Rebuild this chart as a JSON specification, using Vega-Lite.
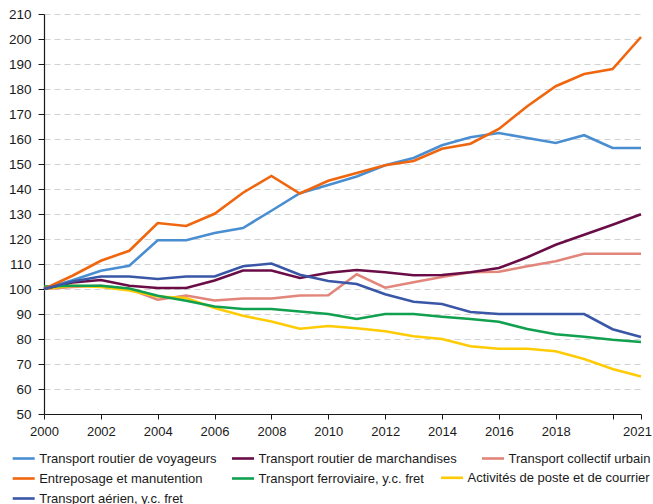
{
  "$schema": "https://vega.github.io/schema/vega-lite/v6.json",
  "width": 597,
  "height": 400,
  "autosize": {"type": "none"},
  "padding": {"left": 44, "top": 14, "right": 12, "bottom": 90},
  "background": "white",
  "config": {
    "view": {"stroke": null},
    "font": "Liberation Sans",
    "axis": {"labelFont": "Liberation Sans", "labelColor": "#1a1a1a", "labelFontSize": 13, "domainColor": "#1a1a1a", "tickColor": "#1a1a1a", "titleFontSize": 13},
    "legend": {"labelFont": "Liberation Sans", "labelFontSize": 13, "labelColor": "#1a1a1a", "title": null, "orient": "none", "direction": "vertical", "symbolType": "stroke", "symbolSize": 484, "symbolStrokeWidth": 3, "labelOffset": 3, "rowPadding": -1, "labelLimit": 300},
    "line": {"strokeWidth": 2.6, "strokeJoin": "miter"}
  },
  "datasets": {
    "d": [
      {"year": 2000, "s": "V", "value": 100}, {"year": 2001, "s": "V", "value": 103.5}, {"year": 2002, "s": "V", "value": 107.3}, {"year": 2003, "s": "V", "value": 109.3}, {"year": 2004, "s": "V", "value": 119.5}, {"year": 2005, "s": "V", "value": 119.5}, {"year": 2006, "s": "V", "value": 122.4}, {"year": 2007, "s": "V", "value": 124.4}, {"year": 2008, "s": "V", "value": 131.3}, {"year": 2009, "s": "V", "value": 138.3}, {"year": 2010, "s": "V", "value": 141.6}, {"year": 2011, "s": "V", "value": 145}, {"year": 2012, "s": "V", "value": 149.5}, {"year": 2013, "s": "V", "value": 152.4}, {"year": 2014, "s": "V", "value": 157.5}, {"year": 2015, "s": "V", "value": 160.7}, {"year": 2016, "s": "V", "value": 162.4}, {"year": 2017, "s": "V", "value": 160.4}, {"year": 2018, "s": "V", "value": 158.4}, {"year": 2019, "s": "V", "value": 161.5}, {"year": 2020, "s": "V", "value": 156.4}, {"year": 2021, "s": "V", "value": 156.4},
      {"year": 2000, "s": "M", "value": 100}, {"year": 2001, "s": "M", "value": 102.6}, {"year": 2002, "s": "M", "value": 103.6}, {"year": 2003, "s": "M", "value": 101.3}, {"year": 2004, "s": "M", "value": 100.4}, {"year": 2005, "s": "M", "value": 100.4}, {"year": 2006, "s": "M", "value": 103.4}, {"year": 2007, "s": "M", "value": 107.4}, {"year": 2008, "s": "M", "value": 107.4}, {"year": 2009, "s": "M", "value": 104.4}, {"year": 2010, "s": "M", "value": 106.5}, {"year": 2011, "s": "M", "value": 107.6}, {"year": 2012, "s": "M", "value": 106.7}, {"year": 2013, "s": "M", "value": 105.5}, {"year": 2014, "s": "M", "value": 105.6}, {"year": 2015, "s": "M", "value": 106.7}, {"year": 2016, "s": "M", "value": 108.4}, {"year": 2017, "s": "M", "value": 112.7}, {"year": 2018, "s": "M", "value": 117.7}, {"year": 2019, "s": "M", "value": 121.7}, {"year": 2020, "s": "M", "value": 125.7}, {"year": 2021, "s": "M", "value": 129.9},
      {"year": 2000, "s": "C", "value": 100}, {"year": 2001, "s": "C", "value": 100.8}, {"year": 2002, "s": "C", "value": 101.3}, {"year": 2003, "s": "C", "value": 100}, {"year": 2004, "s": "C", "value": 95.7}, {"year": 2005, "s": "C", "value": 97.4}, {"year": 2006, "s": "C", "value": 95.4}, {"year": 2007, "s": "C", "value": 96.2}, {"year": 2008, "s": "C", "value": 96.2}, {"year": 2009, "s": "C", "value": 97.4}, {"year": 2010, "s": "C", "value": 97.5}, {"year": 2011, "s": "C", "value": 105.9}, {"year": 2012, "s": "C", "value": 100.5}, {"year": 2013, "s": "C", "value": 102.7}, {"year": 2014, "s": "C", "value": 104.8}, {"year": 2015, "s": "C", "value": 106.7}, {"year": 2016, "s": "C", "value": 106.9}, {"year": 2017, "s": "C", "value": 109.1}, {"year": 2018, "s": "C", "value": 111.1}, {"year": 2019, "s": "C", "value": 114.1}, {"year": 2020, "s": "C", "value": 114.1}, {"year": 2021, "s": "C", "value": 114.1},
      {"year": 2000, "s": "E", "value": 100}, {"year": 2001, "s": "E", "value": 105.3}, {"year": 2002, "s": "E", "value": 111.3}, {"year": 2003, "s": "E", "value": 115.3}, {"year": 2004, "s": "E", "value": 126.4}, {"year": 2005, "s": "E", "value": 125.2}, {"year": 2006, "s": "E", "value": 130.1}, {"year": 2007, "s": "E", "value": 138.5}, {"year": 2008, "s": "E", "value": 145.2}, {"year": 2009, "s": "E", "value": 138.2}, {"year": 2010, "s": "E", "value": 143.3}, {"year": 2011, "s": "E", "value": 146.4}, {"year": 2012, "s": "E", "value": 149.5}, {"year": 2013, "s": "E", "value": 151.2}, {"year": 2014, "s": "E", "value": 156.1}, {"year": 2015, "s": "E", "value": 158.1}, {"year": 2016, "s": "E", "value": 164}, {"year": 2017, "s": "E", "value": 173.1}, {"year": 2018, "s": "E", "value": 181.1}, {"year": 2019, "s": "E", "value": 186}, {"year": 2020, "s": "E", "value": 188}, {"year": 2021, "s": "E", "value": 200.8},
      {"year": 2000, "s": "F", "value": 101}, {"year": 2001, "s": "F", "value": 101.3}, {"year": 2002, "s": "F", "value": 101.3}, {"year": 2003, "s": "F", "value": 100.2}, {"year": 2004, "s": "F", "value": 97.3}, {"year": 2005, "s": "F", "value": 95.3}, {"year": 2006, "s": "F", "value": 93}, {"year": 2007, "s": "F", "value": 92}, {"year": 2008, "s": "F", "value": 92}, {"year": 2009, "s": "F", "value": 91}, {"year": 2010, "s": "F", "value": 90}, {"year": 2011, "s": "F", "value": 88}, {"year": 2012, "s": "F", "value": 90}, {"year": 2013, "s": "F", "value": 90}, {"year": 2014, "s": "F", "value": 88.9}, {"year": 2015, "s": "F", "value": 88}, {"year": 2016, "s": "F", "value": 86.9}, {"year": 2017, "s": "F", "value": 84}, {"year": 2018, "s": "F", "value": 81.9}, {"year": 2019, "s": "F", "value": 80.9}, {"year": 2020, "s": "F", "value": 79.7}, {"year": 2021, "s": "F", "value": 78.8},
      {"year": 2000, "s": "P", "value": 100}, {"year": 2001, "s": "P", "value": 101.3}, {"year": 2002, "s": "P", "value": 100.8}, {"year": 2003, "s": "P", "value": 99.4}, {"year": 2004, "s": "P", "value": 97}, {"year": 2005, "s": "P", "value": 96.4}, {"year": 2006, "s": "P", "value": 92.4}, {"year": 2007, "s": "P", "value": 89.3}, {"year": 2008, "s": "P", "value": 87}, {"year": 2009, "s": "P", "value": 84.1}, {"year": 2010, "s": "P", "value": 85.2}, {"year": 2011, "s": "P", "value": 84.3}, {"year": 2012, "s": "P", "value": 83.1}, {"year": 2013, "s": "P", "value": 81.1}, {"year": 2014, "s": "P", "value": 80}, {"year": 2015, "s": "P", "value": 77.1}, {"year": 2016, "s": "P", "value": 76.1}, {"year": 2017, "s": "P", "value": 76.1}, {"year": 2018, "s": "P", "value": 75.1}, {"year": 2019, "s": "P", "value": 72}, {"year": 2020, "s": "P", "value": 68}, {"year": 2021, "s": "P", "value": 65},
      {"year": 2000, "s": "A", "value": 100}, {"year": 2001, "s": "A", "value": 103}, {"year": 2002, "s": "A", "value": 105}, {"year": 2003, "s": "A", "value": 105}, {"year": 2004, "s": "A", "value": 104}, {"year": 2005, "s": "A", "value": 105}, {"year": 2006, "s": "A", "value": 105}, {"year": 2007, "s": "A", "value": 109.1}, {"year": 2008, "s": "A", "value": 110.2}, {"year": 2009, "s": "A", "value": 105.7}, {"year": 2010, "s": "A", "value": 103.2}, {"year": 2011, "s": "A", "value": 102}, {"year": 2012, "s": "A", "value": 97.9}, {"year": 2013, "s": "A", "value": 94.9}, {"year": 2014, "s": "A", "value": 94}, {"year": 2015, "s": "A", "value": 90.8}, {"year": 2016, "s": "A", "value": 90}, {"year": 2017, "s": "A", "value": 90}, {"year": 2018, "s": "A", "value": 90}, {"year": 2019, "s": "A", "value": 90}, {"year": 2020, "s": "A", "value": 83.9}, {"year": 2021, "s": "A", "value": 80.8}
    ],
    "names": [
      {"s": "V", "serie": "Transport routier de voyageurs"},
      {"s": "M", "serie": "Transport routier de marchandises"},
      {"s": "C", "serie": "Transport collectif urbain"},
      {"s": "E", "serie": "Entreposage et manutention"},
      {"s": "F", "serie": "Transport ferroviaire, y.c. fret"},
      {"s": "P", "serie": "Activités de poste et de courrier"},
      {"s": "A", "serie": "Transport aérien, y.c. fret"}
    ]
  },
  "data": {"name": "d"},
  "transform": [
    {"lookup": "s", "from": {"data": {"name": "names"}, "key": "s", "fields": ["serie"]}}
  ],
  "encoding": {
    "x": {
      "field": "year", "type": "quantitative",
      "scale": {"domain": [2000, 2021], "nice": false, "zero": false},
      "axis": {
        "title": null, "format": "d", "grid": false, "labelFlush": false,
        "values": [2000, 2002, 2004, 2006, 2008, 2010, 2012, 2014, 2016, 2018, 2020, 2021],
        "labelExpr": "datum.value == 2020 ? '' : datum.label",
        "labelOffset": {"condition": {"test": "datum.value == 2021", "value": -4}, "value": 0},
        "tickSize": 5, "labelPadding": 6, "domainWidth": 1.2, "labelOverlap": false
      }
    },
    "y": {
      "field": "value", "type": "quantitative",
      "scale": {"domain": [50, 210], "nice": false, "zero": false},
      "axis": {
        "title": null, "values": [50, 60, 70, 80, 90, 100, 110, 120, 130, 140, 150, 160, 170, 180, 190, 200, 210],
        "grid": true, "gridColor": "#d2d2d2", "gridDash": [6, 4], "gridWidth": 1,
        "tickSize": 6, "labelPadding": 7, "domainWidth": 1.2, "labelFontSize": 13.5
      }
    }
  },
  "layer": [
    {
      "transform": [{"filter": {"field": "s", "oneOf": ["C"]}}],
      "mark": "line",
      "encoding": {
        "color": {
          "field": "serie", "type": "nominal",
          "scale": {"domain": ["Transport collectif urbain"], "range": ["#e2857a"]},
          "legend": {"legendX": 436.5, "legendY": 432}
        }
      }
    },
    {
      "transform": [{"filter": {"field": "s", "oneOf": ["P"]}}],
      "mark": "line",
      "encoding": {
        "color": {
          "field": "serie", "type": "nominal",
          "scale": {"domain": ["Activités de poste et de courrier"], "range": ["#ffcb05"]},
          "legend": {"legendX": 395.5, "legendY": 451.3}
        }
      }
    },
    {
      "transform": [{"filter": {"field": "s", "oneOf": ["M", "F"]}}],
      "mark": "line",
      "encoding": {
        "color": {
          "field": "serie", "type": "nominal",
          "scale": {"domain": ["Transport routier de marchandises", "Transport ferroviaire, y.c. fret"], "range": ["#6a0d46", "#11a04f"]},
          "legend": {"legendX": 186.5, "legendY": 432}
        }
      }
    },
    {
      "transform": [{"filter": {"field": "s", "oneOf": ["V", "E", "A"]}}],
      "mark": "line",
      "encoding": {
        "color": {
          "field": "serie", "type": "nominal",
          "scale": {"domain": ["Transport routier de voyageurs", "Entreposage et manutention", "Transport aérien, y.c. fret"], "range": ["#4a8ed2", "#f0660e", "#3a57a7"]},
          "legend": {"legendX": -32.8, "legendY": 432}
        }
      }
    }
  ],
  "resolve": {"scale": {"color": "independent"}, "legend": {"color": "independent"}}
}
